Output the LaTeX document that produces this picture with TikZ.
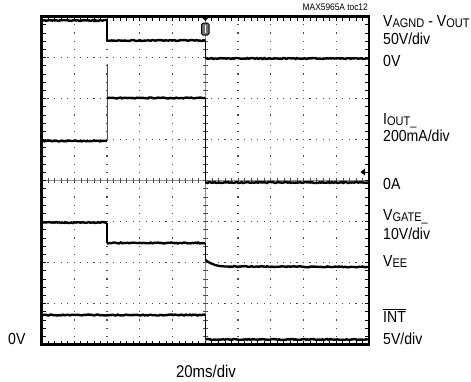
\documentclass[tikz,border=0pt]{standalone}
\usepackage{fontspec}
\setmainfont{Liberation Sans}[FakeStretch=0.88]
\usetikzlibrary{decorations.pathmorphing}
\newcommand{\sbs}[1]{\raisebox{-1.4pt}{\fontsize{12.5}{12.5}\selectfont #1}}
\tikzset{
  trh/.style={line width=2.4pt, decorate, decoration={random steps, segment length=1.5pt, amplitude=0.5pt}},
  trv/.style={line width=1.3pt},
  lbl/.style={anchor=base west, inner sep=0pt, font=\fontsize{16}{16}\selectfont},
  griddot/.style={fill=black!70},
  edgetick/.style={line width=0.8pt},
}
\begin{document}
\begin{tikzpicture}[x=1pt,y=-1pt]
\useasboundingbox (0,0) rectangle (471,381);
\pgfmathsetseed{7}
% grid dots
\foreach \k in {1,2,3,5,6,7} {
  \foreach \m in {1,...,49} {
    \fill[griddot] ({41.5+\m*6.55-0.6},{16.5+\k*41-0.6}) rectangle ++(1.2,1.2);
  }
}
\foreach \j in {1,2,3,4,6,7,8,9} {
  \foreach \m in {1,...,39} {
    \fill[griddot] ({41.5+\j*32.75-0.6},{16.5+\m*8.2-0.6}) rectangle ++(1.2,1.2);
  }
}
% center axes
\draw[black!45, line width=0.9pt] (41.5,180.5) -- (369,180.5);
\foreach \m in {1,...,49} \draw[black!70, line width=0.6pt] ({41.5+\m*6.55},178) -- ++(0,5);
\draw[black!45, line width=0.9pt] (205.25,16.5) -- (205.25,344.5);
\foreach \m in {1,...,39} \draw[black!70, line width=0.6pt] (202.75,{16.5+\m*8.2}) -- ++(5,0);
% edge ticks
\foreach \m in {1,...,39} {
  \draw[edgetick] (41.5,{16.5+\m*8.2}) -- ++(4.5,0);
  \draw[edgetick] (369,{16.5+\m*8.2}) -- ++(-4,0);
}
\foreach \m in {1,...,49} {
  \draw[edgetick] ({41.5+\m*6.55},16.5) -- ++(0,4);
  \draw[edgetick] ({41.5+\m*6.55},344.5) -- ++(0,-4);
}
% frame
\draw[line width=3pt] (369,16.5) -- (41.5,16.5) -- (41.5,344.5) -- (369,344.5);
\draw[line width=2.2pt] (369,15) -- (369,346);
% trace 1
\draw[trh] (43,20.5) -- (107,20.5);
\draw[trv] (107,20.5) -- (107,40.5);
\draw[trh] (107,40.5) -- (205.5,40.5);
\draw[trv] (205.5,40.5) -- (205.5,58.5);
\draw[trh] (205.5,58.5) -- (368,58.5);
% trace 2
\draw[trh] (43,141) -- (107,141);
\draw[line width=0.9pt, black!70] (107,141) -- (107,64);
\draw[trh] (107,98) -- (205.5,98);
\draw[trv] (205.5,98) -- (205.5,182.5);
\draw[trh] (205.5,182.5) -- (368,182.5);
% trace 3
\draw[trh] (43,222.5) -- (107,222.5);
\draw[trv] (107,222.5) -- (107,243);
\draw[trh] (107,243) -- (205.5,243);
\draw[trv] (205.5,243) -- (205.5,260);
\draw[line width=2.3pt] (205.5,260) .. controls (212,265) and (218,266.5) .. (228,266.5);
\draw[trh] (228,266.5) -- (368,267);
% trace 4
\draw[trh] (43,315) -- (205.5,315);
\draw[trv] (205.5,315) -- (205.5,339.5);
\draw[trh] (205.5,339.5) -- (368,339.5);
% trigger markers
\fill (201,16.5) -- (209.5,16.5) -- (205.25,21) -- cycle;
\draw[fill=black!55, line width=1pt, rounded corners=1.5pt] (201.5,23) rectangle (209,35);
\draw[white, line width=0.9pt] (205.25,25) -- (205.25,33);
\fill (360.5,172) -- (365,168.5) -- (365,175.5) -- cycle;
% labels
\node[anchor=base east, inner sep=0pt, font=\fontsize{9.5}{9.5}\selectfont] (toc) at (368,10) {MAX5965A toc12};
\node[lbl] (l1) at (383,26) {V\sbs{AGND} - V\sbs{OUT}};
\node[lbl] (l2) at (383,44) {50V/div};
\node[lbl] (l3) at (383,66) {0V};
\node[lbl] (l4) at (383,124) {I\sbs{OUT\_}};
\node[lbl] (l5) at (383,141.5) {200mA/div};
\node[lbl] (l6) at (383,189) {0A};
\node[lbl] (l7) at (383,220) {V\sbs{GATE\_}};
\node[lbl] (l8) at (383,239) {10V/div};
\node[lbl] (l9) at (383,266) {V\sbs{EE}};
\node[lbl] (l10) at (383,322) {$\overline{\mbox{INT}}$};
\node[lbl] (l11) at (383,344) {5V/div};
\node[lbl] (l12) at (8,344) {0V};
\node[anchor=base, inner sep=0pt, font=\fontsize{17}{17}\selectfont] (xl) at (206,377) {20ms/div};
\end{tikzpicture}
\end{document}
